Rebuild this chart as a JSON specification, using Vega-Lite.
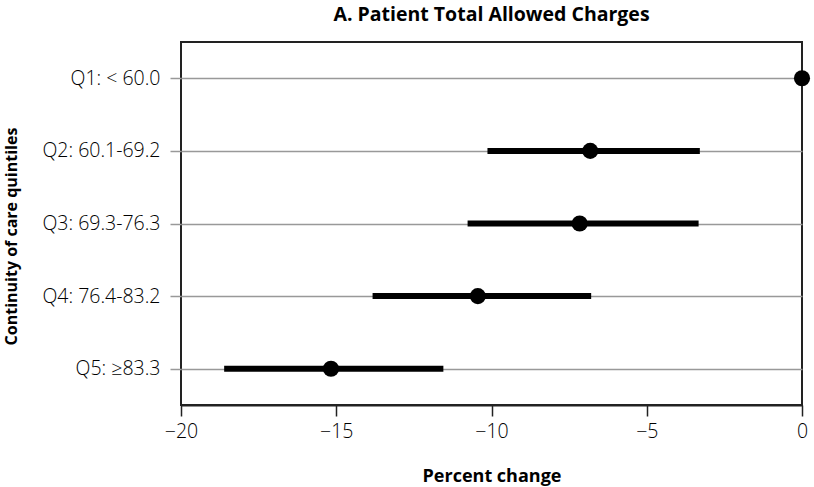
{
  "$schema": "https://vega.github.io/schema/vega-lite/v6.json",
  "autosize": {"type": "none"},
  "padding": {"left": 181, "top": 42, "right": 12, "bottom": 82},
  "width": 621,
  "height": 363,
  "background": "white",
  "title": {
    "text": "A. Patient Total Allowed Charges",
    "font": "Open Sans",
    "fontSize": 19.5,
    "fontWeight": "bold",
    "color": "black",
    "anchor": "middle",
    "offset": 17
  },
  "config": {
    "view": {"stroke": "#222", "strokeWidth": 2},
    "font": "Open Sans"
  },
  "data": {
    "values": [
      {"q": "Q1: < 60.0", "est": 0, "lo": 0, "hi": 0},
      {"q": "Q2: 60.1-69.2", "est": -6.82, "lo": -10.13, "hi": -3.29},
      {"q": "Q3: 69.3-76.3", "est": -7.16, "lo": -10.77, "hi": -3.33},
      {"q": "Q4: 76.4-83.2", "est": -10.44, "lo": -13.83, "hi": -6.79},
      {"q": "Q5: \u226583.3", "est": -15.17, "lo": -18.61, "hi": -11.55}
    ]
  },
  "encoding": {
    "y": {
      "field": "q",
      "type": "nominal",
      "sort": null,
      "scale": {"type": "point", "padding": 0.5},
      "axis": {
        "title": "Continuity of care quintiles",
        "titleFont": "Open Sans",
        "titleFontSize": 16,
        "titleFontWeight": "bold",
        "titleColor": "black",
        "titlePadding": 22,
        "titleY": 194,
        "labelFont": "Open Sans",
        "labelFontSize": 19.5,
        "labelFontWeight": 300,
        "labelColor": "black",
        "labelPadding": 10,
        "tickSize": 11,
        "tickColor": "#999",
        "tickWidth": 1.5,
        "grid": true,
        "gridColor": "#999",
        "gridWidth": 1.5,
        "domain": false
      }
    }
  },
  "layer": [
    {
      "mark": {"type": "rule", "color": "black", "strokeWidth": 6},
      "encoding": {
        "x": {
          "field": "lo",
          "type": "quantitative",
          "scale": {"domain": [-20, 0], "nice": false, "zero": false},
          "axis": {
            "title": "Percent change",
            "titleFont": "Open Sans",
            "titleFontSize": 18,
            "titleFontWeight": "bold",
            "titleColor": "black",
            "titlePadding": 27,
            "labelFont": "Open Sans",
            "labelFontSize": 19.5,
            "labelFontWeight": 300,
            "labelColor": "black",
            "labelPadding": 6,
            "labelFlush": false,
            "values": [-20, -15, -10, -5, 0],
            "tickSize": 11,
            "tickColor": "#222",
            "tickWidth": 1.5,
            "domainColor": "#222",
            "domainWidth": 2,
            "grid": false
          }
        },
        "x2": {"field": "hi"}
      }
    },
    {
      "mark": {"type": "rule", "color": "black", "strokeWidth": 3},
      "encoding": {"x": {"datum": 0, "type": "quantitative"}}
    },
    {
      "mark": {"type": "point", "filled": true, "color": "black", "opacity": 1, "size": 260, "shape": "circle"},
      "encoding": {"x": {"field": "est", "type": "quantitative"}}
    }
  ]
}
